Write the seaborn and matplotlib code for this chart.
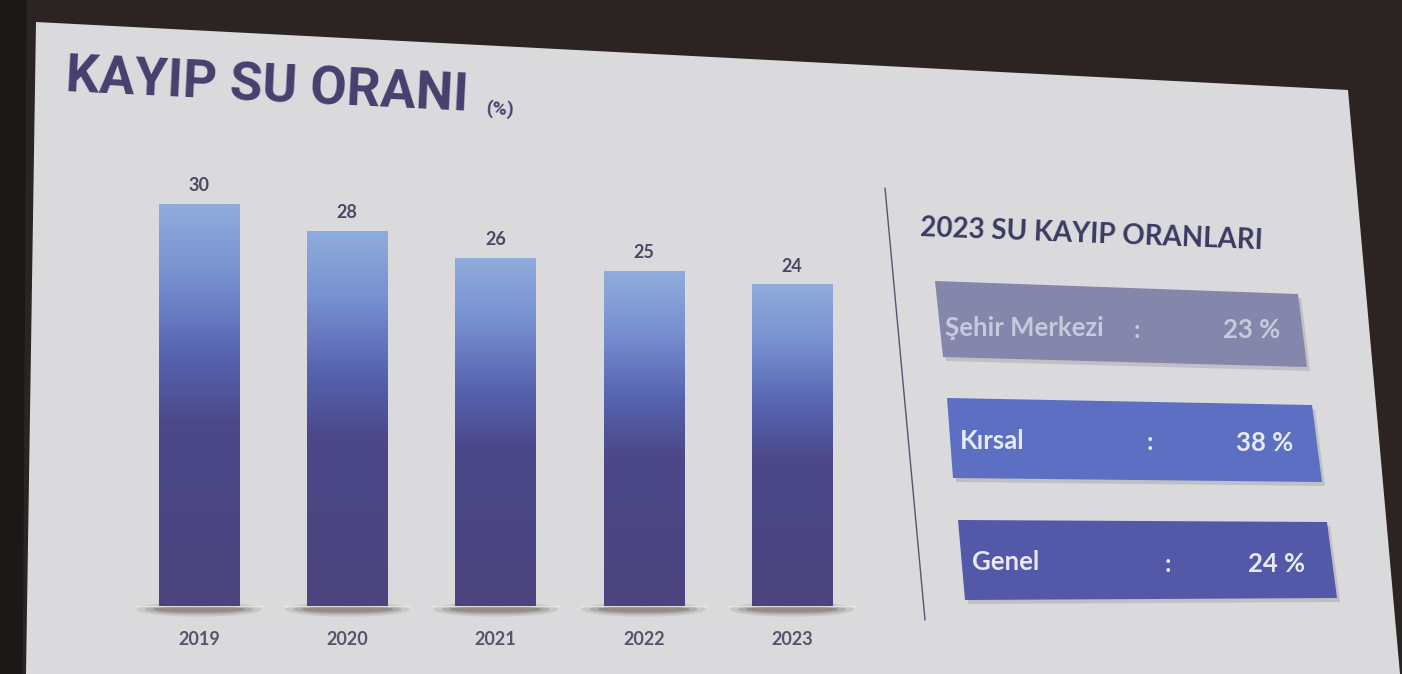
import numpy as np
import pandas as pd
import matplotlib
matplotlib.use("Agg")
import matplotlib.pyplot as plt
from matplotlib.patches import Polygon, Ellipse
from matplotlib.colors import LinearSegmentedColormap
import seaborn as sns

# ---------------- data ----------------
years = ["2019", "2020", "2021", "2022", "2023"]
loss_rates = [30, 28, 26, 25, 24]
panel_labels = ["Şehir Merkezi", "Kırsal", "Genel"]
panel_values = [23, 38, 24]
title_text = "KAYIP SU ORANI"
title_unit = "(%)"
panel_title = "2023 SU KAYIP ORANLARI"

sns.set_theme(style="white")
plt.rcParams["font.family"] = ["Lato", "DejaVu Sans"]

W, H = 1402, 674
fig = plt.figure(figsize=(W / 100, H / 100), dpi=100)
fig.patch.set_facecolor("#2b2422")

# background axes in pixel coordinates
bg = fig.add_axes([0, 0, 1, 1])
bg.set_xlim(0, W)
bg.set_ylim(H, 0)
bg.axis("off")
bg.add_patch(Polygon([(0, 0), (26, 0), (22, H), (0, H)], closed=True, color="#1c1818", zorder=0))
bg.add_patch(Polygon([(36, 22), (1348, 90), (1400, 674), (26, 674)], closed=True,
                     facecolor="#dadadc", edgecolor="none", zorder=1))

# titles
bg.text(65, 92, title_text, fontsize=38, fontweight="bold", family=["Roboto", "DejaVu Sans"],
        color="#45406e", rotation=-2.8, rotation_mode="anchor", va="baseline", ha="left", zorder=3)
bg.text(486, 114, title_unit, fontsize=14, fontweight="bold", family=["Roboto", "DejaVu Sans"],
        color="#45406e", rotation=-2.8, rotation_mode="anchor", va="baseline", ha="left", zorder=3)
bg.text(920, 236, panel_title, fontsize=20, fontweight="bold", color="#3b3b63",
        rotation=-2.2, rotation_mode="anchor", va="baseline", ha="left", zorder=3)

# divider line
bg.plot([885, 925], [188, 620], color="#55556e", lw=1.0, zorder=3)

# right panel boxes
boxes = [
    [(935, 281), (1298, 294), (1307, 367), (943, 357)],
    [(947, 398), (1312, 405), (1322, 482), (953, 478)],
    [(958, 520), (1327, 522), (1337, 598), (965, 600)],
]
box_colors = ["#8486ab", "#5d6fc2", "#5358a9"]
text_colors = ["#c8c9dc", "#e6e8f2", "#e6e8f2"]
label_x = [945, 960, 972]
colon_x = [1137, 1150, 1168]
value_x = [1280, 1293, 1305]
text_y = [328, 441, 562]
for i, (lab, val) in enumerate(zip(panel_labels, panel_values)):
    pts = boxes[i]
    shadow = [(x + 3, y + 4) for x, y in pts]
    bg.add_patch(Polygon(shadow, closed=True, facecolor="#a0a0aa", edgecolor="none", alpha=0.45, zorder=2))
    bg.add_patch(Polygon(pts, closed=True, facecolor=box_colors[i], edgecolor="none", zorder=2.5))
    bg.text(label_x[i], text_y[i], lab, fontsize=18.5, fontweight="bold", color=text_colors[i],
            va="center", ha="left", zorder=3)
    bg.text(colon_x[i], text_y[i] + 2, ":", fontsize=18, fontweight="bold", color=text_colors[i],
            va="center", ha="center", zorder=3)
    bg.text(value_x[i], text_y[i] + 2, f"{val} %", fontsize=18.5, fontweight="bold", color=text_colors[i],
            va="center", ha="right", zorder=3)

# ---------------- bar chart ----------------
px_per_unit = 13.4
ax_left, ax_right = 125, 866
ax_bottom_px, ax_top_px = 606, 170
ax = fig.add_axes([ax_left / W, (H - ax_bottom_px) / H, (ax_right - ax_left) / W,
                   (ax_bottom_px - ax_top_px) / H])
ax.set_facecolor("none")
df = pd.DataFrame({"year": years, "rate": loss_rates})
sns.barplot(data=df, x="year", y="rate", color="#5a66b5", saturation=1, width=0.54,
            linewidth=0, edgecolor="none", ax=ax, zorder=2)
ax.set_xlim(-0.5, len(years) - 0.5)
ax.set_ylim(0, (ax_bottom_px - ax_top_px) / px_per_unit)

cmap = LinearSegmentedColormap.from_list(
    "bar", [(0.0, "#4b447e"), (0.45, "#4c4889"), (0.62, "#5663b0"), (0.82, "#7790d0"), (1.0, "#90acdc")])
grad = np.linspace(0, 1, 256).reshape(-1, 1)
for p in ax.patches:
    x, y0, w, h = p.get_x(), p.get_y(), p.get_width(), p.get_height()
    im = ax.imshow(grad, cmap=cmap, origin="lower", aspect="auto",
                   extent=[x, x + w, y0, y0 + h], zorder=2.5)
    im.set_clip_path(p)
    cx = x + w / 2
    for k, hh, a in zip([1.55, 1.35, 1.15], [1.1, 0.8, 0.5], [0.10, 0.16, 0.22]):
        ax.add_patch(Ellipse((cx, -0.25), w * k, hh, facecolor="#2e2018", edgecolor="none",
                             alpha=a, clip_on=False, zorder=1))
    ax.plot([cx - w * 0.8, cx + w * 0.8], [0, 0], color="#ecebea", lw=1.0, alpha=0.8,
            clip_on=False, zorder=1.5, solid_capstyle="butt")

ax.set_xlim(-0.5, len(years) - 0.5)
ax.set_ylim(0, (ax_bottom_px - ax_top_px) / px_per_unit)
ax.bar_label(ax.containers[0], labels=[str(v) for v in loss_rates], padding=7,
             fontsize=13, fontweight="bold", color="#4a4965")
ax.set_xlabel("")
ax.set_ylabel("")
ax.set_yticks([])
ax.tick_params(axis="x", length=0, pad=18, labelsize=13, labelcolor="#55546a")
for t in ax.get_xticklabels():
    t.set_fontweight("bold")
for s in ax.spines.values():
    s.set_visible(False)

fig.savefig("out.png", dpi=100, facecolor=fig.get_facecolor())
